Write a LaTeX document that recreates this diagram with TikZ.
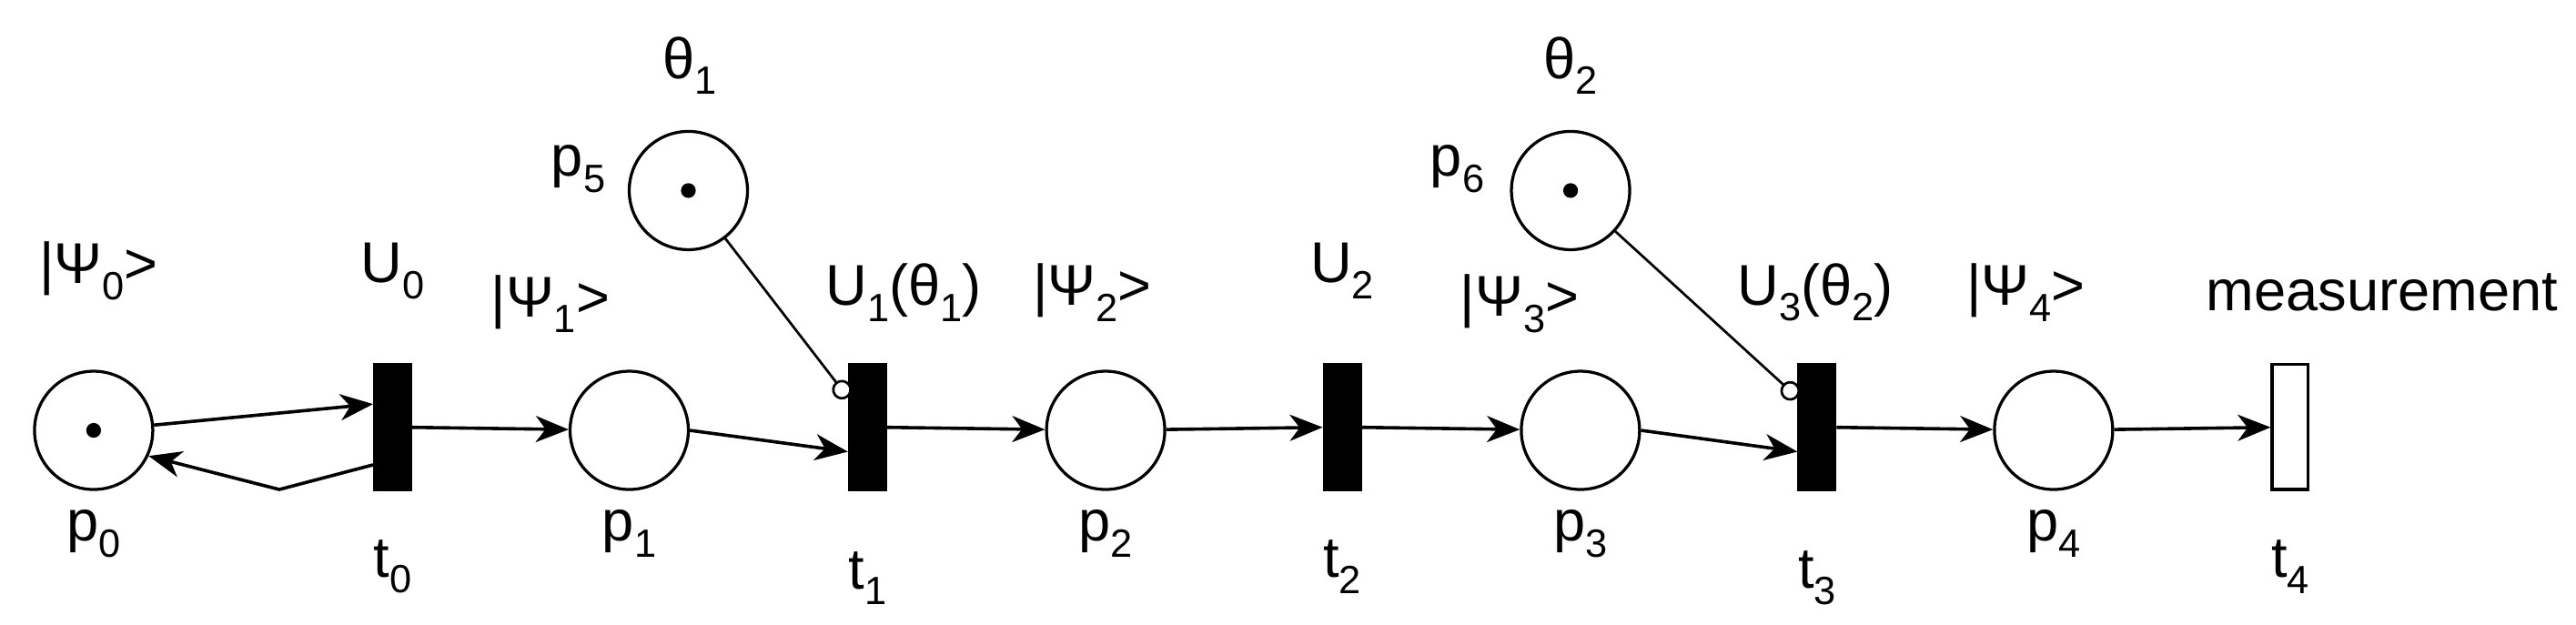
\documentclass[tikz,border=0pt]{standalone}
\usepackage{fontspec}
\setmainfont{Liberation Sans}
\usetikzlibrary{arrows.meta}
\newcommand{\lsub}[1]{\raisebox{-0.28em}{\fontsize{24}{24}\selectfont #1}}
\begin{document}
\begin{tikzpicture}[x=1pt,y=-1pt,
  place/.style={circle,draw,line width=1.8pt,minimum size=72pt,inner sep=0pt},
  trans/.style={rectangle,draw,line width=1.8pt,fill=black,minimum width=22pt,minimum height=76pt,inner sep=0pt},
  etrans/.style={trans,fill=white},
  arc/.style={line width=2pt,-{Stealth[length=20pt,width=16pt,inset=6pt]}},
  rd/.style={line width=1.5pt,-{Circle[open,length=12pt,width=12pt,fill=white]}},
  tok/.style={circle,fill=black,minimum size=9pt,inner sep=0pt},
  lab/.style={font=\fontsize{35}{38}\selectfont,inner sep=0pt}]
\useasboundingbox (0,0) rectangle (1568,380);
\node[place] (p0) at (57,262) {};
\node[tok] at (57,262) {};
\node[trans] (t0) at (239,260) {};
\node[place] (p1) at (383,262) {};
\node[trans] (t1) at (528,260) {};
\node[place] (p2) at (673,262) {};
\node[trans] (t2) at (817,260) {};
\node[place] (p3) at (962,262) {};
\node[trans] (t3) at (1106,260) {};
\node[place] (p4) at (1250,262) {};
\node[etrans] (t4) at (1394,260) {};
\node[place] (p5) at (419,116) {};
\node[tok] at (419,116) {};
\node[place] (p6) at (956,116) {};
\node[tok] at (956,116) {};
\coordinate (b0) at (170,298);
\draw[arc] (p0.5) -- (t0.west |- 0,246);
\draw[arc] (t0.west |- 0,283) -- (b0) -- (p0.-25);
\draw[arc] (t0) -- (p1);
\draw[arc] (p1.east) -- (t1.west |- 0,275);
\draw[arc] (t1) -- (p2);
\draw[arc] (p2) -- (t2);
\draw[arc] (t2) -- (p3);
\draw[arc] (p3.east) -- (t3.west |- 0,275);
\draw[arc] (t3) -- (p4);
\draw[arc] (p4) -- (t4);
\draw[rd] (p5) -- (t1.west |- 0,242);
\draw[rd] (p6) -- (t3.west |- 0,242);
\node[lab] at (57,325) {p\lsub{0}};
\node[lab] at (239,345) {t\lsub{0}};
\node[lab] at (383,325) {p\lsub{1}};
\node[lab] at (528,352) {t\lsub{1}};
\node[lab] at (673,325) {p\lsub{2}};
\node[lab] at (817,345) {t\lsub{2}};
\node[lab] at (962,325) {p\lsub{3}};
\node[lab] at (1106,352) {t\lsub{3}};
\node[lab] at (1250,325) {p\lsub{4}};
\node[lab] at (1394,345) {t\lsub{4}};
\node[lab] at (352,103) {p\lsub{5}};
\node[lab] at (887,103) {p\lsub{6}};
\node[lab] at (420,40) {θ\lsub{1}};
\node[lab] at (956,40) {θ\lsub{2}};
\node[lab] at (60,165) {|Ψ\lsub{0}>};
\node[lab] at (239,165) {U\lsub{0}};
\node[lab] at (335,185) {|Ψ\lsub{1}>};
\node[lab] at (550,178) {U\lsub{1}(θ\lsub{1})};
\node[lab] at (665,178) {|Ψ\lsub{2}>};
\node[lab] at (817,165) {U\lsub{2}};
\node[lab] at (925,185) {|Ψ\lsub{3}>};
\node[lab] at (1105,178) {U\lsub{3}(θ\lsub{2})};
\node[lab] at (1233,178) {|Ψ\lsub{4}>};
\node[lab] at (1450,178) {measurement};
\end{tikzpicture}
\end{document}
